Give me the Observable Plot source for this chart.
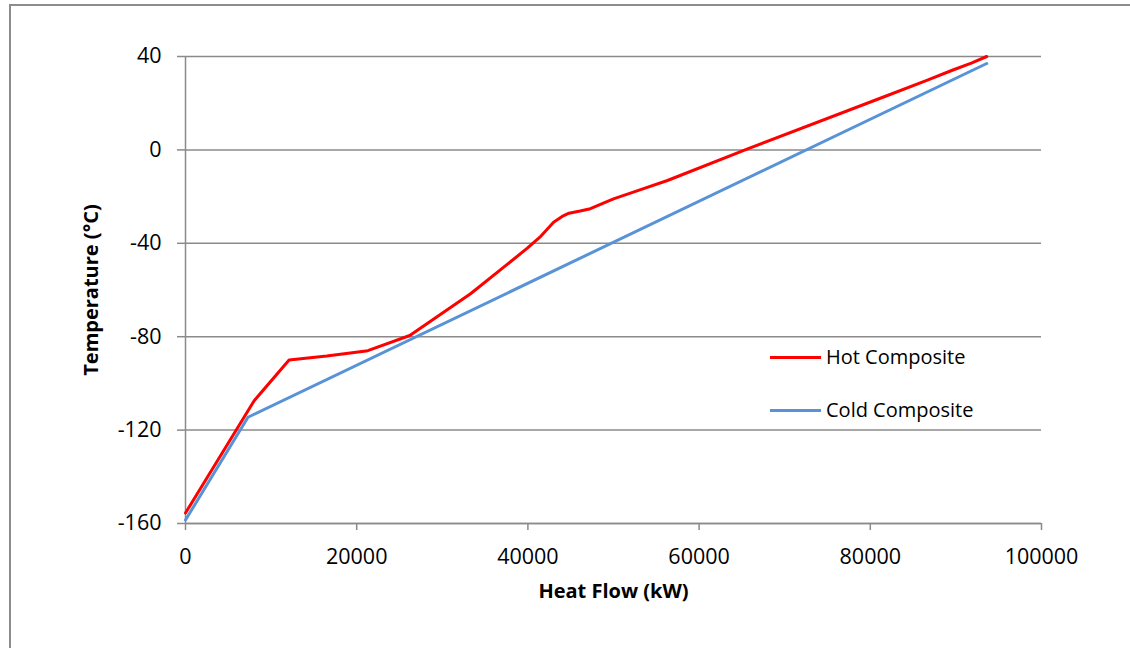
<!DOCTYPE html>
<html>
<head>
<meta charset="utf-8">
<script src="https://cdn.jsdelivr.net/npm/d3@7"></script>
<script src="https://cdn.jsdelivr.net/npm/@observablehq/plot@0.6"></script>
<style>
  html, body { margin: 0; padding: 0; background: #fff; }
  #wrap { position: relative; width: 1130px; height: 648px; overflow: hidden; font-family: "Open Sans", sans-serif; }
  #frame { position: absolute; left: 9px; top: 4px; right: -10px; bottom: -10px; border-top: 2px solid #8c8c8c; border-left: 2px solid #8c8c8c; }
  #chart { position: absolute; left: 0; top: 0; }
  .lg-line { position: absolute; height: 3px; width: 51px; }
  .lg-text { position: absolute; font-size: 20px; line-height: 24px; color: #000; white-space: nowrap; }
</style>
</head>
<body>
<div id="wrap">
  <div id="frame"></div>
  <div id="chart"></div>
  <div class="lg-line" style="left:770px; top:356px; background:#ff0000;"></div>
  <div class="lg-text" style="left:826px; top:345px;">Hot Composite</div>
  <div class="lg-line" style="left:770px; top:409px; background:#5892d7;"></div>
  <div class="lg-text" style="left:826px; top:398px;">Cold Composite</div>
</div>
<script>
// Hot composite curve: heat flow (kW) and temperature (°C)
const hotQ = [0, 8000, 12100, 16500, 21300, 26200, 33300, 39900, 41400, 43000, 44000, 44800, 46100, 47300, 50000, 53000, 56300, 65600, 82000, 86600, 89500, 91800, 93600];
const hotT = [-155.5, -107.5, -90, -88.3, -86, -79.5, -61.6, -42.2, -37.4, -31.0, -28.5, -27.1, -26.2, -25.2, -21, -17.2, -13.1, 0.3, 23.3, 29.8, 34.0, 37.2, 40];
// Cold composite curve
const coldQ = [0, 7300, 93600];
const coldT = [-158.5, -114.5, 37];

const seriesNames = ["Hot Composite", "Cold Composite"];
const xTicks = [0, 20000, 40000, 60000, 80000, 100000];
const yTicks = [-160, -120, -80, -40, 0, 40];

const hot = hotQ.map((q, i) => ({q, t: hotT[i], s: seriesNames[0]}));
const cold = coldQ.map((q, i) => ({q, t: coldT[i], s: seriesNames[1]}));

const gray = "#8a8a8a";
const fmt = d => String(d);

const chart = Plot.plot({
  width: 1130,
  height: 648,
  marginLeft: 185,
  marginRight: 89,
  marginTop: 56,
  marginBottom: 125,
  style: { fontFamily: "Open Sans, sans-serif", fontSize: "21.5px", color: "#000", background: "transparent", overflow: "visible" },
  x: { domain: [0, 100000] },
  y: { domain: [-160, 40] },
  marks: [
    Plot.gridY(yTicks, { stroke: gray, strokeOpacity: 1, strokeWidth: 1.5 }),
    Plot.ruleX([0], { stroke: gray, strokeWidth: 1.5 }),
    Plot.ruleY([-160], { stroke: gray, strokeWidth: 1.5 }),
    Plot.axisY({ ticks: yTicks, tickSize: 8, tickPadding: 16, tickFormat: fmt, stroke: gray, strokeWidth: 1.5, fill: "#000", label: null }),
    Plot.axisX({ ticks: xTicks, tickSize: 7, tickPadding: 18, tickFormat: fmt, stroke: gray, strokeWidth: 1.5, fill: "#000", label: null }),
    Plot.line(hot, { x: "q", y: "t", stroke: "#ff0000", strokeWidth: 3, strokeLinejoin: "round" }),
    Plot.line(cold, { x: "q", y: "t", stroke: "#5892d7", strokeWidth: 3, strokeLinejoin: "round" }),
    Plot.text(["Temperature (°C)"], { text: d => d, frameAnchor: "left", dx: -94, rotate: -90, textAnchor: "middle", lineAnchor: "middle", fontWeight: "bold", fontSize: 20, fill: "#000" }),
    Plot.text(["Heat Flow (kW)"], { text: d => d, frameAnchor: "bottom", dy: 68, textAnchor: "middle", lineAnchor: "middle", fontWeight: "bold", fontSize: 20, fill: "#000" })
  ]
});
document.getElementById("chart").appendChild(chart);
</script>
</body>
</html>
